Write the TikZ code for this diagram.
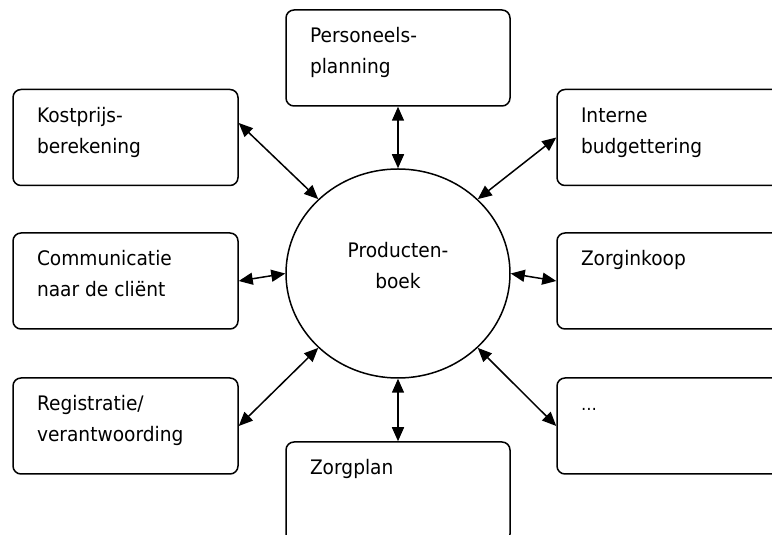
\documentclass[tikz,border=0pt]{standalone}
\usepackage{fontspec}
\setmainfont{DejaVu Sans}[FakeStretch=0.93]
\usetikzlibrary{shapes.geometric, arrows.meta}
\tikzstyle{vak}=[draw, rectangle, rounded corners=8pt, line width=1.5pt,
inner xsep=24pt, inner ysep=11pt]
\tikzstyle{kern}=[draw, ellipse, line width=1.5pt, align=center,
minimum width=224pt, minimum height=209pt, text depth=16pt]
\tikzstyle{pijl}=[<->, line width=1.5pt]
\newcommand{\vaktekst}[3]{\parbox[c][#2][t]{#1}{\strut #3}}

\begin{document}
\begin{tikzpicture}[x=1pt, y=1pt, >={Triangle[length=14pt, width=12pt]},
	font=\fontsize{20}{31}\selectfont]
		\useasboundingbox (0,0) rectangle (772,535);
		\clip (0,0) rectangle (772,535);
		\node[kern] (boek) at (398,261.5) {Producten-\\boek};
		\node[vak, above of=boek, node distance=215.5pt](personeel){\vaktekst{176pt}{74pt}{Personeels-\\planning}};
		\node[vak, below of=boek, node distance=218.5pt](zorgplan){\vaktekst{176pt}{78pt}{Zorgplan}};
		\node[vak] (communicatie) at (125.5,254) {\vaktekst{177pt}{74pt}{Communicatie\\naar de cliënt}};
		\node[vak, above of=communicatie, node distance=143.5pt](kostprijs){\vaktekst{177pt}{74pt}{Kostprijs-\\berekening}};
		\node[vak, below of=communicatie, node distance=145pt](registratie){\vaktekst{177pt}{74pt}{Registratie/\\verantwoording}};
		\node[vak] (inkoop) at (678.5,254) {\vaktekst{195pt}{74pt}{Zorginkoop}};
		\node[vak, above of=inkoop, node distance=143.5pt](intern){\vaktekst{195pt}{74pt}{Interne\\budgettering}};
		\node[vak, below of=inkoop, node distance=145pt](overig){\vaktekst{195pt}{74pt}{{\fontsize{17}{31}\selectfont\ldots}}};
		\draw[pijl] (personeel.south) -- (boek.north);
		\draw[pijl] ([yshift=14.5pt]kostprijs.east) -- (boek.137);
		\draw[pijl] (intern.west) -- (boek.43);
		\draw[pijl] (communicatie.east) -- (boek.west);
		\draw[pijl] (boek.east) -- (inkoop.west);
		\draw[pijl] (registratie.east) -- (boek.223);
		\draw[pijl] (overig.west) -- (boek.317);
		\draw[pijl] (boek.south) -- (zorgplan.north);
	\end{tikzpicture}
\end{document}
